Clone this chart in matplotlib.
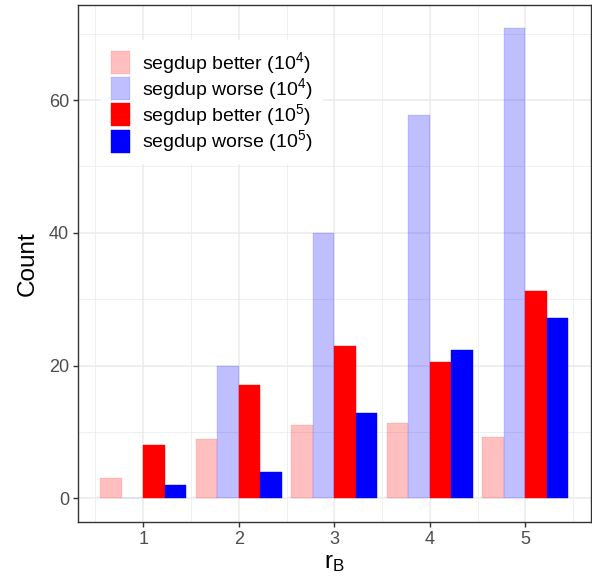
import numpy as np
import matplotlib
matplotlib.use("Agg")
import matplotlib.pyplot as plt

plt.rcParams['font.family'] = ['Liberation Sans', 'DejaVu Sans']
plt.rcParams['mathtext.fontset'] = 'custom'
plt.rcParams['mathtext.rm'] = 'Liberation Sans'
plt.rcParams['mathtext.it'] = 'Liberation Sans'
plt.rcParams['mathtext.default'] = 'regular'

r_b = [1, 2, 3, 4, 5]
better_1e4 = [3.0, 9.0, 11.0, 11.3, 9.3]
worse_1e4 = [0.0, 20.0, 40.0, 57.7, 70.8]
better_1e5 = [8.0, 17.0, 23.0, 20.5, 31.3]
worse_1e5 = [2.0, 4.0, 12.9, 22.4, 27.1]

series = [
    ("segdup better (10$^4$)", better_1e4, "red", 0.25),
    ("segdup worse (10$^4$)", worse_1e4, "blue", 0.25),
    ("segdup better (10$^5$)", better_1e5, "red", 1.0),
    ("segdup worse (10$^5$)", worse_1e5, "blue", 1.0),
]

fig = plt.figure(figsize=(5.92, 5.8), dpi=100)
ax = fig.add_axes([78 / 592, 1 - 521.7 / 580, (590.7 - 78) / 592, (521.7 - 5) / 580])

width = 0.225
x = np.array(r_b, dtype=float)
for i, (label, vals, color, alpha) in enumerate(series):
    offset = (i - 1.5) * width
    ax.bar(x + offset, vals, width=width, color=color, alpha=alpha,
           edgecolor=color, linewidth=0.3, label=label, zorder=2)

ax.set_xlim(0.317, 5.683)
ax.set_ylim(-3.54, 74.34)
ax.set_xticks(r_b)
ax.set_xticks([0.5, 1.5, 2.5, 3.5, 4.5, 5.5], minor=True)
ax.set_yticks([0, 20, 40, 60])
ax.set_yticks([10, 30, 50, 70], minor=True)
ax.grid(which='major', color='#EBEBEB', linewidth=1.1, zorder=0)
ax.grid(which='minor', color='#EBEBEB', linewidth=0.55, zorder=0)
ax.set_axisbelow(True)
ax.tick_params(which='major', length=3.5, width=1.0, color='#333333',
               labelsize=13, labelcolor='#4D4D4D', pad=3)
ax.tick_params(which='minor', length=0)
for s in ax.spines.values():
    s.set_color('#333333')
    s.set_linewidth(1.0)

ax.set_ylabel("Count", fontsize=17.5, labelpad=7)
ax.set_xlabel("r$_B$", fontsize=17.5, labelpad=3)

leg = ax.legend(loc='upper left', bbox_to_anchor=(101 / 592, 1 - 40 / 580),
                bbox_transform=fig.transFigure, borderaxespad=0,
                frameon=True, fancybox=False, framealpha=1, edgecolor='white',
                fontsize=14, handlelength=1.0, handleheight=1.45,
                labelspacing=0.02, handletextpad=0.62, borderpad=0.5)
leg.get_frame().set_linewidth(0)

fig.savefig("out.png", dpi=100)
